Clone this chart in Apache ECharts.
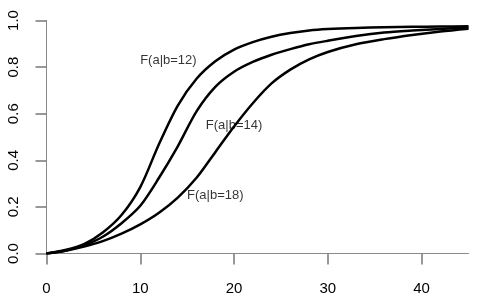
<!DOCTYPE html>
<html>
<head>
<meta charset="utf-8">
<script src="https://cdn.jsdelivr.net/npm/echarts@6/dist/echarts.min.js"></script>
<style>html,body{margin:0;padding:0;background:#fff}#c{width:480px;height:300px}</style>
</head>
<body>
<div id="c"></div>
<script>
const xs = [0, 2, 4, 6, 8, 10, 12, 14, 16, 18, 20, 22, 24, 26, 28, 30, 33, 36, 39, 42, 45];
const f12 = [0, 0.015, 0.04, 0.09, 0.165, 0.285, 0.47, 0.635, 0.75, 0.825, 0.875, 0.907, 0.93, 0.946, 0.957, 0.963, 0.968, 0.971, 0.973, 0.974, 0.975];
const f14 = [0, 0.012, 0.035, 0.072, 0.13, 0.205, 0.325, 0.46, 0.61, 0.715, 0.78, 0.822, 0.853, 0.877, 0.898, 0.913, 0.933, 0.948, 0.957, 0.964, 0.970];
const f18 = [0, 0.012, 0.03, 0.053, 0.085, 0.125, 0.175, 0.24, 0.325, 0.435, 0.545, 0.645, 0.73, 0.789, 0.833, 0.865, 0.898, 0.92, 0.938, 0.953, 0.965];
const labelNames = ['F(a|b=12)', 'F(a|b=14)', 'F(a|b=18)'];
const labelX = [13, 20, 18];
const labelY = [0.83, 0.55, 0.25];
const xMax = 45;
const xTickMax = 40;

const FONT = 'Liberation Sans, Arial, Helvetica, sans-serif';
const pair = (ys) => xs.map((x, i) => [x, ys[i]]);
const lineSeries = (ys) => ({
  type: 'line', data: pair(ys), showSymbol: false, smooth: 0.3,
  lineStyle: { color: '#000', width: 2.5 }, animation: false, silent: true
});

const L = 46.5, R = 11.5, T = 20.5, B = 46.5, W = 480;
const plotW = W - L - R;
const tickGridW = plotW * xTickMax / xMax;

const chart = echarts.init(document.getElementById('c'), null, { renderer: 'canvas' });
chart.setOption({
  animation: false,
  grid: [
    { left: L, right: R, top: T, bottom: B, containLabel: false },
    { left: L, width: tickGridW, top: T, bottom: B, containLabel: false }
  ],
  xAxis: [
    {
      type: 'value', gridIndex: 0, min: 0, max: xMax,
      splitLine: { show: false },
      axisLine: { show: true, onZero: false, lineStyle: { color: '#8a8a8a', width: 1 } },
      axisTick: { show: false },
      axisLabel: { show: false }
    },
    {
      type: 'value', gridIndex: 1, min: 0, max: xTickMax, interval: 10,
      splitLine: { show: false },
      axisLine: { show: false, onZero: false },
      axisTick: { show: true, length: 11, lineStyle: { color: '#777777', width: 1.5 } },
      axisLabel: { margin: 28, fontSize: 15, color: '#000', fontFamily: FONT }
    }
  ],
  yAxis: [
    {
      type: 'value', gridIndex: 0, min: 0, max: 1, interval: 0.2,
      splitLine: { show: false },
      axisLine: { show: true, onZero: false, lineStyle: { color: '#8a8a8a', width: 1 } },
      axisTick: { show: true, length: 11, lineStyle: { color: '#777777', width: 1.5 } },
      axisLabel: { rotate: 90, margin: 25, fontSize: 15, color: '#000', fontFamily: FONT,
        formatter: (v) => v.toFixed(1) }
    },
    {
      type: 'value', gridIndex: 1, min: 0, max: 1, show: false
    }
  ],
  series: [
    lineSeries(f12), lineSeries(f14), lineSeries(f18),
    {
      type: 'scatter', symbolSize: 0, silent: true,
      data: labelNames.map((n, i) => [labelX[i], labelY[i], n]),
      label: { show: true, position: 'inside', formatter: (p) => p.value[2],
        fontSize: 13, color: '#000', fontFamily: FONT }
    }
  ]
});
</script>
</body>
</html>
